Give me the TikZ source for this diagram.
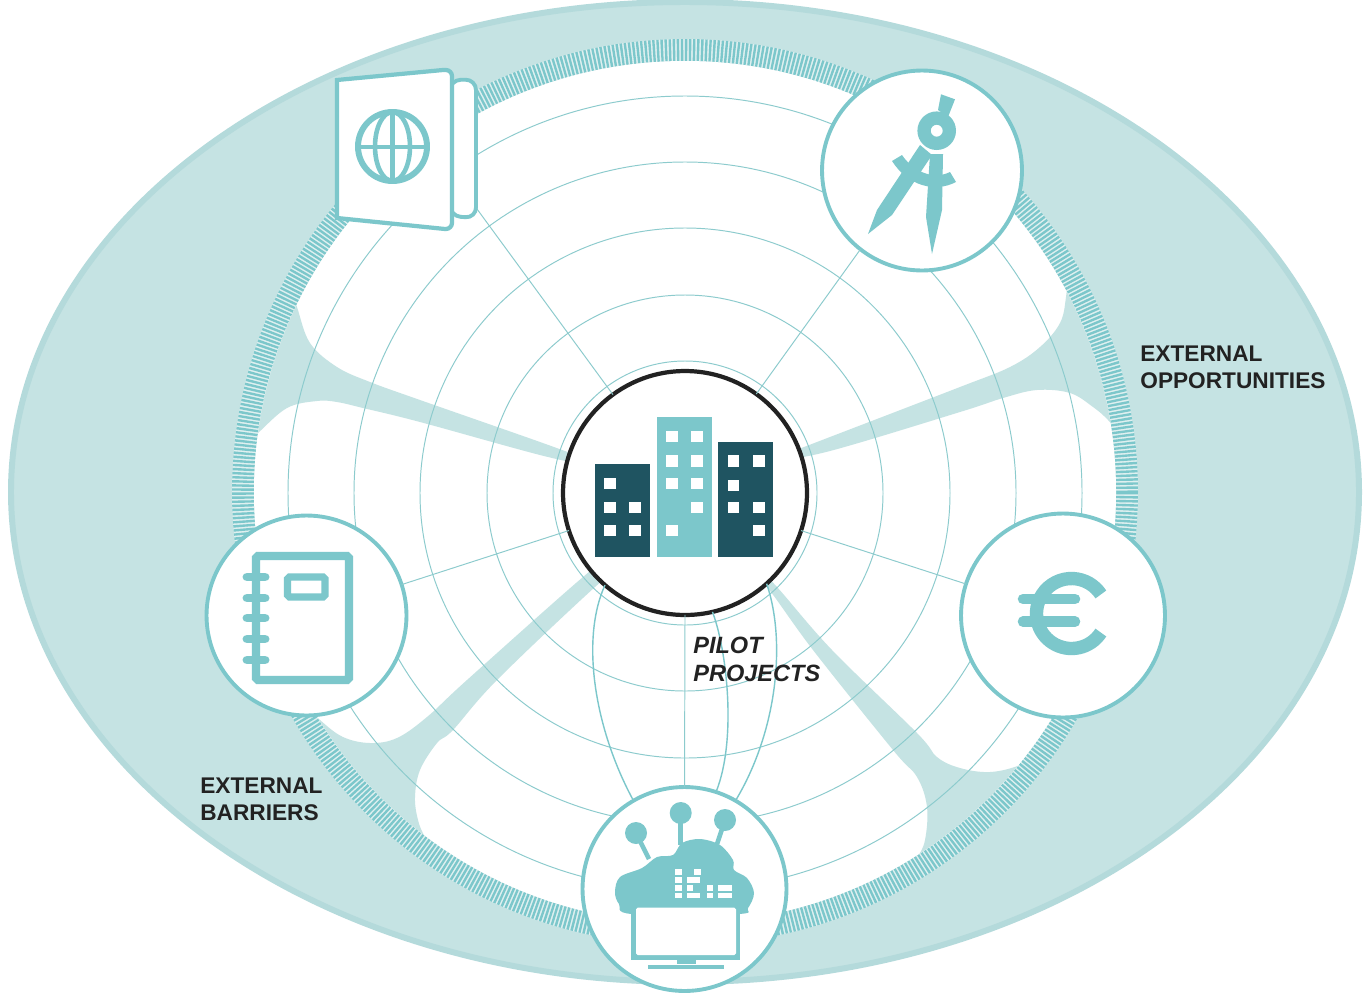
\documentclass[tikz,border=0pt]{standalone}
\usepackage{fontspec}
\setmainfont{Liberation Sans}
\definecolor{teal1}{HTML}{7CC7CB}
\definecolor{pale}{HTML}{C5E3E3}
\definecolor{rimc}{HTML}{B4DADB}
\definecolor{gapc}{HTML}{DFF0F0}
\definecolor{darkb}{HTML}{1F5461}
\definecolor{gridc}{HTML}{8CCBCD}
\definecolor{inkc}{HTML}{222222}
\tikzset{
  gridline/.style={draw=gridc,line width=0.55pt},
  tieline/.style={draw=teal1,line width=0.8pt},
  iconcircle/.style={circle,draw=teal1,fill=white,line width=2.2pt,inner sep=0pt,outer sep=0pt,minimum size=#1},
  tealfill/.style={fill=teal1,draw=none},
  win/.style={fill=white,draw=none},
  caption/.style={font=\fontsize{12.9}{14.9}\selectfont\bfseries,text=inkc,align=left,inner sep=0pt,anchor=north west},
  spoke/.style={fill=pale,draw=none}
}
\newcommand{\winbox}[2]{\fill[win] (#1-5.6,#2-5.6) rectangle (#1+5.6,#2+5.6);}
\newcommand{\cloudbar}[4]{\fill[win] (#1,#3) rectangle (#2,#4);}
\begin{document}
\begin{tikzpicture}[x=0.02cm,y=-0.02cm]
\useasboundingbox (0,0) rectangle (1364,994);
% outer ellipse
\fill[pale,draw=rimc,line width=3.4pt] (685,492) ellipse [x radius=674,y radius=490];
% hatched ring
\draw[gapc,line width=12.5pt] (685,492) circle [radius=442];
\draw[teal1,line width=12.5pt,dash pattern=on 1.35pt off 0.93pt] (685,492) circle [radius=442];
% white disk and spokes
\fill[white] (685,492) circle [radius=431];
\begin{scope}
\clip (685,492) circle [radius=431];
\fill[spoke] plot[smooth,tension=.6] coordinates {(600,464)(540,442)(420,400)(370,382)(337,367)(310,343)(297,307)(288,280)}
  -- (200,280) -- (200,460)
  -- plot[smooth,tension=.6] coordinates {(245,445)(258,433)(287,408)(317,401)(337,402)(363,408)(420,422)(540,455)(600,468)} -- cycle;
\fill[spoke] plot[smooth,tension=.6] coordinates {(770,460)(830,437)(960,387)(1010,367)(1040,347)(1060,323)(1066,297)(1068,270)}
  -- (1180,270) -- (1180,450)
  -- plot[smooth,tension=.6] coordinates {(1125,440)(1108,420)(1093,407)(1070,393)(1037,390)(1003,398)(960,412)(830,451)(770,462)} -- cycle;
\fill[spoke] plot[smooth,tension=.6] coordinates {(620,550)(583,577)(467,680)(427,717)(397,738)(370,743)(343,737)(320,720)(300,700)}
  -- (250,760) -- (380,900)
  -- plot[smooth,tension=.6] coordinates {(440,860)(425,837)(418,820)(415,797)(420,770)(437,743)(453,730)(497,680)(595,587)(630,560)} -- cycle;
\fill[spoke] plot[smooth,tension=.6] coordinates {(750,560)(777,587)(832,650)(917,733)(937,757)(960,768)(990,772)(1020,765)(1045,750)}
  -- (1110,790) -- (960,920)
  -- plot[smooth,tension=.6] coordinates {(905,875)(917,858)(925,840)(927,807)(917,777)(893,750)(813,650)(767,587)(740,560)} -- cycle;
\end{scope}
% grid circles
\foreach \r in {132,198,265,331,397}
  \draw[gridline] (685,493) circle [radius=\r];
% hub
\node[circle,draw=inkc,fill=white,line width=2.4pt,inner sep=0pt,outer sep=0pt,minimum size=4.88cm] (hub) at (685,493) {};
% icon circles
\node[iconcircle=4cm] (compass) at (922,170.5) {};
\node[iconcircle=4cm] (notebook) at (306.5,615.5) {};
\node[iconcircle=4.08cm] (euro) at (1063,615.5) {};
\node[iconcircle=4.08cm] (cloud) at (684.5,889) {};
\coordinate (passportfoot) at (477,209);
% connectors
\draw[gridline] (hub) -- (passportfoot);
\draw[gridline] (hub) -- (compass.232);
\draw[gridline] (hub) -- (notebook.18.6);
\draw[gridline] (hub) -- (euro.162);
\draw[gridline] (hub.-90) -- (cloud.90);
\draw[tieline] (hub.229.8) .. controls (580,640) and (595,730) .. (cloud.120.5);
\draw[tieline] (hub.-77.5) .. controls (727,650) and (737,740) .. (cloud.72);
\draw[tieline] (hub.-48.9) .. controls (786,640) and (778,730) .. (cloud.60.5);
% buildings
\fill[darkb] (594.7,464) rectangle (650,557.3);
\fill[teal1] (656.7,417.3) rectangle (711.7,557.3);
\fill[darkb] (718.3,441.7) rectangle (773.3,557.3);
\winbox{610}{483.3}\winbox{610}{507.7}\winbox{635}{507.7}\winbox{610}{530.3}\winbox{635}{530.3}
\winbox{672}{436.7}\winbox{697}{436.7}\winbox{672}{461}\winbox{697}{461}\winbox{672}{483.3}\winbox{697}{483.3}\winbox{697}{507.7}\winbox{672}{530.3}
\winbox{733.7}{461}\winbox{759}{461}\winbox{733.7}{485.3}\winbox{733.7}{507.7}\winbox{759}{507.7}\winbox{759}{530.3}
% passport
\draw[teal1,fill=white,line width=2.2pt,rounded corners=6pt] (450,80) -- (476,79.5) -- (476,218) -- (450,216) -- cycle;
\draw[teal1,fill=white,line width=2.4pt] (337,80) -- (443,70) [rounded corners=3.5pt] -- (452,70) -- (452,229) [sharp corners] -- (445,229) -- (337,218) -- cycle;
\draw[teal1,line width=3.4pt] (392.5,146.5) circle [radius=34.5];
\draw[teal1,line width=2.6pt] (392.5,146.5) ellipse [x radius=17.5,y radius=34.5];
\draw[teal1,line width=2.8pt] (392.5,112) -- (392.5,181);
\draw[teal1,line width=2.8pt] (358,147) -- (427,147);
% compass
\fill[tealfill] (941,94.3) -- (955,99.3) -- (948,117) -- (938,110) -- cycle;
\fill[tealfill] (920,145) -- (932,155) -- (892,215) -- (868,234) -- (877,210) -- cycle;
\fill[tealfill] (892,161) -- (902,155) .. controls (912,170) and (932,181) .. (950,172) -- (956,182)
  .. controls (935,193) and (908,186) .. (892,161) -- cycle;
\fill[tealfill] (930,154) -- (943,154) -- (942,210) -- (932,254) -- (926,217) -- cycle;
\fill[tealfill,even odd rule] (936.7,130.7) circle [radius=19.3] (936.7,130.7) circle [radius=6];
% euro
\draw[teal1,line width=7.6pt] (1071.5,613.5) ++(33:35) arc [start angle=33,end angle=327,radius=35];
\draw[teal1,line width=6pt,line cap=round] (1023,599) -- (1075,599);
\draw[teal1,line width=6pt,line cap=round] (1023,621.7) -- (1075,621.7);
% notebook
\draw[teal1,line width=4.6pt,rounded corners=1pt] (256,556) rectangle (349,680);
\draw[teal1,line width=4pt,rounded corners=1pt] (287.5,577) rectangle (325,597);
\foreach \yy in {577,598,618,639,660}
  \draw[teal1,line width=5.1pt,line cap=round] (247,\yy) -- (265,\yy);
% cloud and monitor
\draw[teal1,line width=2.6pt] (636,833) -- (649,859);
\draw[teal1,line width=2.6pt] (680.7,813) -- (680.7,845);
\draw[teal1,line width=2.6pt] (725,820) -- (717,844);
\fill[teal1] (636,833) circle [radius=11];
\fill[teal1] (680.7,813) circle [radius=11];
\fill[teal1] (725,820) circle [radius=11];
\fill[teal1] plot[smooth cycle,tension=.55] coordinates {(615,892)(620,877)(642,868)(657,857)(673,855)(682,843)(700,839)(720,845)(733,860)(734,870)(747,878)(754,893)(748,908)(738,914)(632,914)(619,904)};
\fill[teal1] (631,905) rectangle (740,960);
\fill[white,rounded corners=1pt] (636,907.5) rectangle (736,955);
\fill[teal1] (677,960) rectangle (696,963.5);
\fill[teal1] (648,965) rectangle (724,968.5);
\cloudbar{675}{682}{869}{875}\cloudbar{694}{701}{869}{875}
\cloudbar{675}{682}{877}{883}\cloudbar{687}{700}{877}{883}
\cloudbar{675}{682}{885}{891}\cloudbar{687}{693}{885}{891}\cloudbar{707}{713}{885}{891}\cloudbar{718}{732}{885}{891}
\cloudbar{675}{682}{893}{898}\cloudbar{687}{700}{893}{898}\cloudbar{707}{713}{893}{898}\cloudbar{718}{732}{893}{898}
% captions
\node[caption] (opps) at (1140,346) {EXTERNAL\\OPPORTUNITIES};
\node[caption] (barr) at (200,778) {EXTERNAL\\BARRIERS};
\node[caption,font=\fontsize{13.4}{15.6}\selectfont\bfseries\itshape] (pilot) at (693,637) {PILOT\\PROJECTS};
\end{tikzpicture}
\end{document}
